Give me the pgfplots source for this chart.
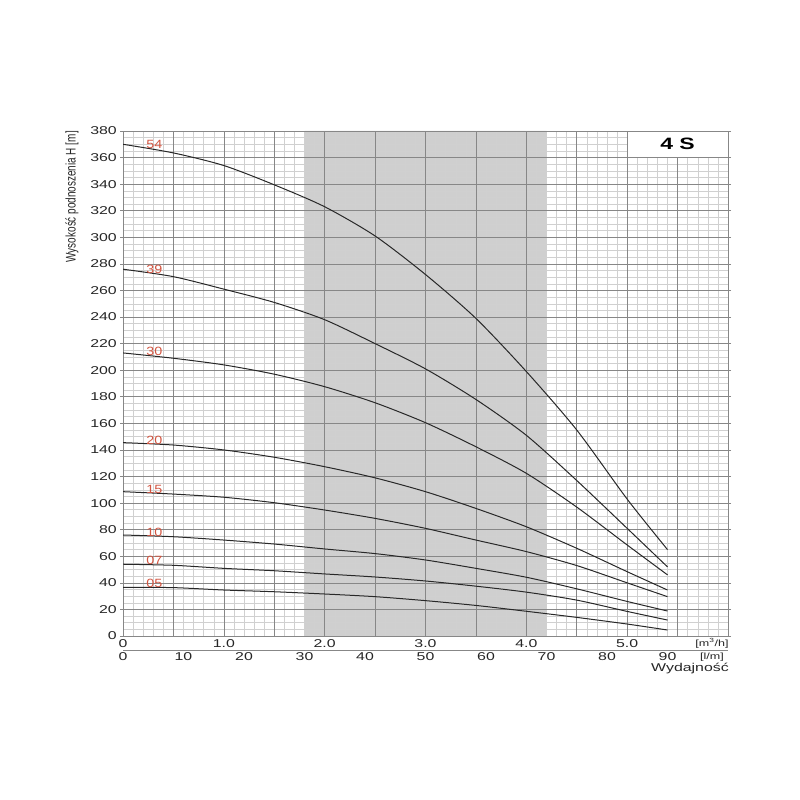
\documentclass[border=0pt]{standalone}
\usepackage{graphicx}
\usepackage{pgfplots}
\pgfplotsset{compat=1.18}
\usepackage{fontspec}
\setmainfont{Liberation Sans}
\newfontfamily\wide[FakeStretch=1.4]{Liberation Sans}
\newfontfamily\widelab[FakeStretch=1.2]{Liberation Sans}
\definecolor{curve}{RGB}{40,40,40}
\definecolor{lab}{RGB}{210,85,65}
\definecolor{band}{RGB}{207,207,207}
\definecolor{gmaj}{RGB}{135,135,135}
\definecolor{gmin}{RGB}{208,208,208}
\pgfplotsset{
  base/.style={
    at={(123bp,164bp)}, anchor=south west,
    scale only axis, width=605bp, height=505bp,
    xmin=0, xmax=100, ymin=0, ymax=380,
    axis line style={gmaj, line width=0.8bp},
    xtick={0,8.33333,16.66667,25,33.33333,41.66667,50,58.33333,66.66667,75,83.33333,91.66667,100},
    ytick={0,20,...,380},
  },
  pump/.style={curve, line width=1bp, smooth, tension=0.45},
}
\begin{document}
\begin{tikzpicture}
\path (0,0) rectangle (800bp,800bp);
% axis 1: band, minor grid, horizontal major grid, tick labels
\begin{axis}[
  base,
  set layers,
  xticklabels={0,,1.0,,2.0,,3.0,,4.0,,5.0,,},
  minor x tick num=4,
  minor y tick num=3,
  grid=both,
  major grid style={gmaj, line width=0.6bp},
  minor grid style={gmin, line width=0.5bp},
  tick align=outside,
  major tick length=3bp,
  minor tick length=0pt,
  tick style={gmaj, line width=0.6bp},
  xtick style={draw=none},
  /pgf/number format/assume math mode=true,
  tick label style={font=\wide\fontsize{11.4}{13}\selectfont, text=black!85},
  yticklabel style={anchor=east, inner sep=0pt, xshift=-3bp},
  xticklabel style={anchor=north, inner sep=0pt, yshift=-0.5bp},
  extra x ticks={0,10,20,30,40,50,60,70,80,90},
  extra x tick labels={0,10,20,30,40,50,60,70,80,90},
  extra x tick style={grid=none, xticklabel style={yshift=-13bp}},
]
\addplot[fill=band, draw=none, on layer=axis background] coordinates {(30,0) (30,380) (70,380) (70,0)} \closedcycle;
\end{axis}
% axis 2: vertical major grid, curves, labels
\begin{axis}[
  base,
  xticklabels={}, yticklabels={},
  xmajorgrids=true, ymajorgrids=false,
  major grid style={gmaj, line width=0.6bp},
  major tick length=0pt,
]
% 54
\addplot[pump] coordinates {
(0,370) (8.33,363.5) (16.67,354) (25,339.5) (33.33,323) (41.67,301) (50,272) (58.33,239) (66.67,199) (75,155) (83.33,103) (90,65)};
% 39
\addplot[pump] coordinates {
(0,276) (8.33,270.4) (16.67,261) (25,251) (33.33,238) (41.67,220) (50,201) (58.33,178) (66.67,151) (75,117) (83.33,81) (90,52)};
% 30
\addplot[pump] coordinates {
(0,213) (8.33,209) (16.67,204) (25,197) (33.33,187.6) (41.67,175.5) (50,160.5) (58.33,142.4) (66.67,122.4) (75,97) (83.33,68.5) (90,46)};
% 20
\addplot[pump] coordinates {
(0,145.5) (8.33,143.7) (16.67,140) (25,134.5) (33.33,127.4) (41.67,119) (50,108.6) (58.33,96) (66.67,82.2) (75,66) (83.33,48.4) (90,34.6)};
% 15
\addplot[pump] coordinates {
(0,108.6) (8.33,106.8) (16.67,104.4) (25,100.3) (33.33,94.8) (41.67,88.5) (50,81) (58.33,72.2) (66.67,63.5) (75,53) (83.33,40) (90,29.6)};
% 10
\addplot[pump] coordinates {
(0,76) (8.33,74.7) (16.67,72.2) (25,69.2) (33.33,65.5) (41.67,62) (50,57.2) (58.33,50.9) (66.67,44.2) (75,35.5) (83.33,26) (90,18.8)};
% 07
\addplot[pump] coordinates {
(0,54) (8.33,53.2) (16.67,50.9) (25,49.1) (33.33,46.7) (41.67,44.4) (50,41.4) (58.33,37.5) (66.67,33) (75,27) (83.33,18.5) (90,12)};
% 05
\addplot[pump] coordinates {
(0,36.6) (8.33,36.4) (16.67,34.6) (25,33.3) (33.33,31.6) (41.67,29.6) (50,26.6) (58.33,23) (66.67,18.6) (75,14) (83.33,9) (90,4.5)};

\begin{scope}[every node/.style={text=lab, font=\widelab\fontsize{12}{13}\selectfont, anchor=south, inner sep=0pt, yshift=-0.5bp}]
\node at (axis cs:5.2,367) {54};
\node at (axis cs:5.2,273) {39};
\node at (axis cs:5.2,211) {30};
\node at (axis cs:5.2,144.5) {20};
\node at (axis cs:5.2,107.5) {15};
\node at (axis cs:5.2,75.2) {10};
\node at (axis cs:5.2,53.7) {07};
\node at (axis cs:5.2,36.5) {05};
\end{scope}

\draw[gmaj, line width=0.8bp, fill=white] (axis cs:83.33333,360) rectangle (axis cs:100,380);
\node[font=\wide\bfseries\fontsize{16.5}{18}\selectfont] at (axis cs:91.66667,370) {4 S};
\end{axis}
\draw[gmaj, line width=0.6bp] (123bp,150bp) -- (728bp,150bp);
\node[font=\wide\fontsize{9}{10}\selectfont, text=black!85] at (712bp,157bp) {[m\textsuperscript{3}/h]};
\node[font=\wide\fontsize{9}{10}\selectfont, text=black!85] at (712bp,143bp) {[l/m]};
\node[anchor=north east, inner sep=0pt, font=\wide\fontsize{11.4}{13}\selectfont, text=black!85] at (729bp,137bp) {Wydajność};
\node[rotate=90, anchor=east, inner sep=0pt, font=\fontsize{10}{12}\selectfont, text=black!85] at (72bp,669bp) {\scalebox{1}[1.4]{Wysokość podnoszenia H [m]}};
\end{tikzpicture}
\end{document}
